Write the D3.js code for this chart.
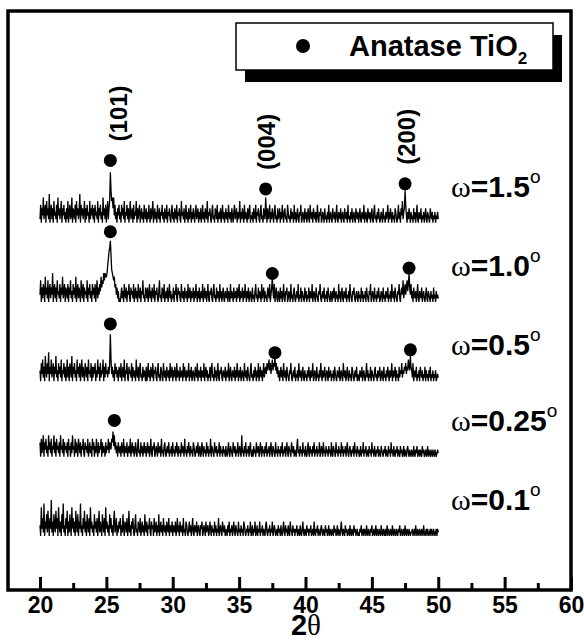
<!DOCTYPE html>
<html>
<head>
<meta charset="utf-8">
<script src="https://cdn.jsdelivr.net/npm/d3@7"></script>
<style>
  body { margin: 0; background: #fff; }
  text { font-family: "Liberation Sans", Arial, sans-serif; }
</style>
</head>
<body>
<div id="chart"></div>
<script>
// 2theta grid of the scans, 20..50 deg in 0.05 deg steps (one row = 2 deg)
var angleStart = 20,
    angleStep = 0.05;

var omegaLabels = ["1.5", "1.0", "0.5", "0.25", "0.1"];
// vertical shift of each scan (intensity units)
var offsets = [102, 80, 58, 37, 15];

var w15 = [
  1,5,0,4,2,7,1,3,5,0, 6,2,4,1,8,0,3,5,1,4, 0,6,2,3,1,5,0,7,2,4, 1,3,6,0,4,2,5,1,3,0,
  4,1,6,0,3,5,1,2,7,0, 4,3,1,5,0,6,2,4,1,3, 8,0,5,2,4,1,3,6,0,4, 1,5,2,3,0,6,1,4,2,5,
  1,4,0,5,2,3,1,6,0,4, 2,5,1,3,0,7,2,4,1,5, 0,3,6,1,4,6,14,9,6,7, 4,7,2,5,1,3,0,4,2,5,
  1,3,0,5,2,4,1,6,0,3, 2,5,1,4,0,3,6,1,2,4, 0,5,1,3,2,6,0,4,1,3, 5,0,2,4,1,3,0,5,2,1,
  4,0,3,1,5,2,0,4,1,3, 6,0,2,4,1,3,0,5,2,1, 4,0,3,2,5,1,3,0,4,2, 1,5,0,3,2,4,1,0,3,5,
  1,3,0,4,2,1,5,0,3,2, 4,1,0,6,2,3,1,4,0,2, 5,1,3,0,4,1,2,5,0,3, 1,4,2,0,3,5,1,2,4,0,
  3,1,4,0,2,5,1,3,0,4, 2,1,6,0,3,2,4,1,0,3, 5,1,2,0,4,3,1,5,0,2, 3,1,4,0,2,5,1,3,0,2,
  4,1,3,0,5,2,1,3,0,4, 2,0,3,5,1,2,4,0,3,1, 2,6,0,3,1,4,2,0,5,1, 3,2,0,4,1,3,5,0,2,1,
  3,0,4,2,1,5,0,3,2,4, 1,0,3,5,1,2,0,4,2,1, 7,3,0,4,1,2,5,0,3,1, 4,2,0,3,5,1,2,0,4,1,
  2,4,0,3,1,5,2,0,3,4, 1,2,0,5,3,1,2,0,4,1, 3,2,0,5,1,3,0,2,4,1, 0,3,2,5,0,1,3,2,0,4,
  1,3,0,2,4,1,0,5,2,1, 3,0,4,2,1,3,0,2,5,1, 0,3,2,4,0,1,3,2,0,4, 1,2,0,3,1,5,0,2,3,1,
  0,4,2,1,3,0,2,5,1,0, 3,2,1,4,0,2,3,1,0,4, 2,1,3,0,5,1,2,0,3,1, 4,0,2,3,1,0,4,2,1,3,
  0,2,4,1,0,3,2,1,5,0, 2,3,1,0,4,2,1,3,0,2, 4,1,0,3,5,1,2,0,3,1, 4,2,0,1,3,2,0,4,1,2,
  0,3,1,2,5,0,3,1,4,2, 0,3,1,2,0,4,3,1,0,2, 5,1,3,0,4,2,6,1,3,4, 9,5,2,0,3,1,4,2,0,3,
  1,2,0,4,1,3,0,2,5,1, 0,3,2,1,4,0,2,1,3,0, 2,4,1,0,3,2,1,0,4,2, 1,3,0,2,1,3,0,2,1,3,
  1
];
var w10 = [
  2,6,0,4,1,5,3,0,7,2, 4,1,6,0,3,5,1,4,2,8, 0,3,5,1,4,0,6,2,3,1, 5,0,4,2,7,1,3,5,0,4,
  3,1,5,0,4,2,6,1,3,0, 5,2,4,1,7,0,3,5,1,4, 2,0,6,3,1,5,0,4,2,3, 1,6,0,4,2,5,1,3,0,5,
  2,4,1,5,0,3,6,1,4,2, 5,3,7,4,6,5,8,6,8,7, 7,8,10,12,14,15,17,13,9,8, 7,6,7,4,5,2,4,1,3,0,
  1,0,2,4,1,3,0,5,2,1, 4,0,3,2,5,1,0,4,2,3, 1,5,0,2,4,1,3,0,5,2, 1,4,0,3,2,6,1,2,0,4,
  3,1,4,0,2,5,1,3,0,4, 2,1,5,0,3,2,4,1,0,3, 6,1,2,0,4,3,1,5,0,2, 3,1,4,0,2,5,1,3,0,2,
  1,4,0,3,2,5,1,0,4,2, 3,1,0,5,2,1,3,0,4,2, 1,3,0,5,1,2,4,0,3,1, 2,4,0,3,1,5,2,0,3,1,
  4,0,2,3,1,5,0,2,4,1, 3,0,2,5,1,0,3,2,4,1, 0,3,5,1,2,0,4,1,3,2, 0,5,1,3,0,2,4,1,0,3,
  2,1,4,0,3,2,0,5,1,3, 2,0,4,1,2,3,0,4,1,2, 5,0,3,1,2,4,0,3,1,5, 2,0,3,1,4,0,2,3,1,0,
  4,1,2,0,3,5,1,2,0,4, 1,3,2,0,5,1,2,4,0,3, 1,2,0,4,3,1,5,0,2,4, 7,3,1,5,0,2,4,1,0,3,
  2,0,4,1,3,0,2,5,1,0, 3,2,4,0,1,3,2,0,5,1, 2,0,3,4,1,0,2,3,1,5, 0,2,1,4,0,3,2,1,0,4,
  1,3,0,2,1,4,0,3,2,1, 5,0,2,3,1,0,4,2,1,0, 3,2,5,1,0,2,3,1,4,0, 2,1,3,0,4,2,1,0,3,2,
  0,3,1,4,2,0,3,1,2,0, 5,1,3,0,2,4,1,0,3,2, 1,4,0,2,1,3,0,5,2,1, 0,3,2,4,1,0,2,3,1,0,
  3,1,2,0,4,1,3,0,2,1, 3,0,4,2,1,0,3,2,5,0, 1,3,2,0,4,1,2,0,3,1, 4,2,0,1,3,2,0,4,1,2,
  0,3,2,1,4,0,2,1,3,0, 5,2,1,3,0,4,2,1,0,3, 2,5,1,0,3,4,2,6,1,3, 5,2,4,6,3,5,8,4,2,5,
  1,3,0,4,2,1,3,0,2,5, 1,0,3,2,1,4,0,2,3,1, 0,2,4,1,0,3,2,1,0,3, 1,2,0,4,1,2,0,3,1,2,
  1
];
var w05 = [
  3,0,5,2,6,1,4,0,7,3, 1,5,2,8,0,4,2,6,1,3, 5,0,4,2,7,1,3,0,5,2, 4,1,6,0,3,2,5,1,4,0,
  2,6,1,4,0,5,3,1,7,0, 4,2,5,1,3,0,6,2,4,1, 5,0,3,6,1,4,2,0,5,3, 1,4,0,6,2,3,1,5,0,4,
  1,4,2,5,0,3,1,6,2,4, 0,5,1,3,2,6,0,4,1,5, 2,3,1,4,2,5,13,6,2,4, 1,3,0,5,2,4,1,3,0,4,
  3,1,5,0,2,4,1,6,0,3, 2,5,1,0,4,2,3,1,5,0, 4,2,1,3,0,6,2,1,4,0, 3,5,1,2,0,4,1,3,2,0,
  4,0,2,5,1,3,0,4,2,1, 5,0,3,2,4,1,0,3,5,1, 2,0,4,3,1,0,5,2,1,3, 0,4,2,1,3,0,5,1,2,4,
  0,3,1,4,2,0,5,1,3,2, 0,4,1,2,3,0,5,1,4,2, 0,3,1,2,5,0,3,1,4,0, 2,3,1,0,4,2,1,5,0,3,
  2,1,4,0,3,2,1,5,0,2, 4,1,3,0,2,1,4,0,3,5, 1,2,0,4,1,3,0,2,5,1, 0,3,2,4,1,0,3,2,1,4,
  0,2,3,1,5,0,2,4,1,0, 3,2,1,4,0,3,1,5,2,0, 3,1,4,0,2,3,1,0,5,2, 1,3,0,4,2,1,0,3,5,1,
  2,0,3,1,4,2,0,3,1,5, 0,2,4,1,3,0,2,5,1,3, 4,2,5,3,4,6,3,5,2,4, 6,3,5,4,7,3,5,2,4,1,
  3,0,2,4,1,3,0,5,2,1, 3,0,4,2,1,0,3,2,5,1, 0,2,3,1,4,0,2,1,3,0, 5,2,1,3,0,2,4,1,0,3,
  1,2,0,3,1,4,2,0,3,1, 2,5,0,1,3,2,0,4,1,2, 0,3,1,5,2,0,3,1,2,4, 0,1,3,2,0,4,1,2,3,0,
  2,1,3,0,4,2,1,0,3,2, 1,4,0,2,3,1,0,5,2,1, 3,0,2,4,1,0,3,1,2,0, 4,3,1,0,2,3,1,4,0,2,
  1,0,3,2,1,4,0,2,3,1, 0,2,5,1,3,0,2,1,4,0, 3,2,1,0,3,4,1,2,0,3, 1,2,4,0,1,3,2,0,4,1,
  2,0,3,1,4,2,0,3,1,2, 5,0,3,1,2,4,0,3,1,2, 0,4,1,3,2,5,1,3,2,4, 3,5,2,4,3,6,4,3,7,4,
  3,1,5,0,2,3,1,4,0,2, 1,3,0,4,2,1,3,0,2,1, 4,0,3,1,2,0,3,1,4,0, 2,1,3,0,2,1,3,0,1,2,
  1
];
var w025 = [
  4,0,5,1,3,6,0,4,2,5, 1,3,0,6,2,4,1,5,0,3, 2,6,1,4,0,5,2,3,1,4, 0,6,2,3,1,5,0,4,2,3,
  1,4,0,5,2,3,0,4,1,6, 2,3,0,5,1,4,2,0,5,3, 1,4,0,3,2,5,1,0,4,2, 3,1,5,0,2,4,1,3,0,5,
  2,4,0,3,1,5,2,0,4,1, 3,2,5,0,4,1,3,2,0,4, 1,3,2,5,1,4,3,2,5,4, 7,3,6,2,4,1,3,0,4,2,
  1,3,0,4,2,1,5,0,3,2, 1,4,0,2,3,1,5,0,2,4, 1,3,0,2,4,1,0,3,5,1, 2,0,4,1,3,0,2,4,1,3,
  0,2,4,1,3,0,2,5,1,0, 3,2,4,0,1,3,2,0,4,1, 2,3,0,5,1,2,0,3,4,1, 0,2,3,1,4,0,2,1,3,0,
  4,1,2,0,3,1,4,2,0,3, 1,2,0,4,1,3,2,0,5,1, 2,0,3,1,4,2,0,3,1,2, 0,4,3,1,0,2,3,1,4,0,
  2,3,0,1,4,2,0,3,1,2, 0,4,1,3,0,2,1,5,0,3, 2,1,0,4,2,1,3,0,2,1, 4,0,3,1,2,0,3,1,2,0,
  3,1,0,2,4,1,0,3,2,1, 0,4,2,1,3,0,2,1,4,0, 2,3,1,0,6,1,2,0,3,1, 4,0,2,1,3,0,2,4,1,0,
  2,0,3,1,2,0,4,1,2,3, 0,1,4,2,0,3,1,2,0,3, 1,4,0,2,1,3,0,2,4,1, 0,3,2,1,0,4,1,2,0,3,
  1,2,0,3,1,4,0,2,1,3, 0,2,4,1,0,3,2,1,0,4, 2,1,3,0,2,1,0,3,5,1, 2,0,3,1,2,0,4,1,2,0,
  3,1,0,2,4,1,0,3,1,2, 0,3,1,4,0,2,1,3,0,2, 1,4,0,1,3,2,0,4,1,2, 0,3,1,2,0,3,1,2,0,4,
  1,0,3,2,1,0,4,1,2,0, 3,1,2,0,4,1,3,0,2,1, 3,0,2,4,1,0,2,3,1,0, 2,1,3,0,4,1,2,0,3,1,
  2,0,1,3,0,2,1,4,0,2, 1,3,0,1,2,0,3,1,2,0, 4,1,2,0,3,1,0,2,1,3, 0,2,1,0,3,2,1,0,2,1,
  3,0,2,1,0,3,1,2,0,4, 1,2,0,3,1,0,2,1,3,0, 2,1,0,3,1,2,0,1,3,0, 2,1,0,2,3,1,0,2,1,0,
  2,1,0,3,1,0,2,1,3,0, 1,2,0,2,1,0,3,1,2,0, 1,2,0,1,3,0,2,1,0,2, 1,0,2,1,0,2,1,0,1,2,
  1
];
var w01 = [
  3,0,8,2,5,1,9,0,4,2, 6,1,7,3,0,5,2,10,1,4, 0,6,3,1,7,2,5,0,8,3, 1,4,0,6,2,9,1,3,0,5,
  2,7,0,4,1,6,3,0,8,2, 5,1,4,0,7,3,1,6,0,4, 2,9,1,3,0,5,2,7,1,4, 0,6,3,1,5,0,8,2,4,1,
  3,0,6,2,4,1,5,0,3,7, 1,4,2,0,6,3,1,5,0,8, 2,4,1,3,0,6,2,5,1,3, 0,4,7,1,2,5,0,3,1,4,
  2,5,0,3,1,6,2,0,4,3, 1,5,0,2,7,1,3,0,4,2, 5,1,0,3,6,1,2,0,4,3, 1,5,0,2,4,1,3,0,6,2,
  1,4,0,3,2,5,1,0,4,2, 3,0,5,1,2,4,0,3,1,6, 0,2,4,1,3,0,5,2,1,3, 0,4,2,1,5,0,3,2,1,4,
  0,3,2,1,4,0,2,5,1,3, 0,4,2,1,3,0,5,1,2,0, 4,3,1,0,2,4,1,3,0,2, 5,1,0,3,2,1,4,0,2,3,
  1,0,3,2,4,0,1,3,2,0, 4,1,2,3,0,1,4,2,0,3, 1,2,0,4,1,3,0,2,1,5, 0,2,3,1,0,4,2,1,3,0,
  2,1,0,3,1,4,0,2,1,3, 0,2,4,1,0,3,2,1,0,4, 1,2,0,3,1,2,0,4,3,1, 0,2,1,3,0,2,1,4,0,1,
  3,0,2,1,4,0,1,3,0,2, 1,4,0,2,1,3,0,2,1,0, 3,4,1,0,2,1,3,0,2,1, 4,0,1,3,2,0,1,2,0,3,
  1,2,0,3,1,0,2,4,1,0, 3,1,2,0,3,1,0,4,2,1, 0,3,1,2,0,2,1,3,0,1, 2,0,3,1,0,2,4,1,0,2,
  1,0,3,1,2,0,2,1,3,0, 1,2,0,4,1,0,2,1,3,0, 2,1,0,2,3,1,0,2,1,0, 3,1,2,0,1,3,0,2,1,0,
  2,1,0,3,1,2,0,1,3,0, 2,1,0,2,4,1,0,2,1,0, 3,1,2,0,1,2,0,3,1,0, 2,1,0,3,1,2,0,1,2,0,
  1,0,2,1,3,0,1,2,0,2, 1,0,3,1,0,2,1,0,2,1, 3,0,1,2,0,1,3,0,2,1, 0,2,1,0,3,1,0,2,1,0,
  2,0,1,3,0,2,1,0,2,1, 0,3,1,0,2,1,0,2,1,0, 2,1,3,0,1,2,0,1,2,0, 3,1,0,2,1,0,2,1,0,1,
  1,2,0,1,2,0,3,1,0,2, 1,0,2,1,0,2,1,0,3,1, 0,1,2,0,2,1,0,1,2,0, 2,1,0,2,1,0,1,2,0,2,
  1
];
var traces = [w15, w10, w05, w025, w01];

// anatase markers: scan index, 2theta, height above the scan baseline
var dotTrace = [0, 0, 0, 1, 1, 1, 2, 2, 2, 3];
var dotAngle = [25.3, 37.0, 47.5, 25.3, 37.5, 47.8, 25.3, 37.7, 47.9, 25.6];
var dotHeight = [17.3, 9.4, 10.8, 19.5, 7.9, 9.4, 15.9, 7.9, 8.7, 10.1];

// hkl labels sit above the markers of the top scan
var hklNames = ["(101)", "(004)", "(200)"];
var hklShift = [17, 9, 10];

var majorTicks = [20, 25, 30, 35, 40, 45, 50, 55, 60],
    minorTicks = [22.5, 27.5, 32.5, 37.5, 42.5, 47.5, 52.5, 57.5];

var width = 584,
    height = 642,
    frameLeft = 8, frameRight = 571, frameTop = 11, frameBottom = 590;

var x = d3.scaleLinear()
    .domain([17.59, 60])
    .range([frameLeft, frameRight]);

var y = d3.scaleLinear()
    .domain([0, 160.8])
    .range([frameBottom, frameTop]);

var svg = d3.select("#chart").append("svg")
    .attr("width", width)
    .attr("height", height);

// scans
var line = d3.line()
    .x(function (d, i) { return x(angleStart + i * angleStep); });

traces.forEach(function (t, k) {
    svg.append("path")
        .datum(t)
        .attr("fill", "none")
        .attr("stroke", "#000")
        .attr("stroke-width", 1.3)
        .attr("d", line.y(function (d) { return y(d + offsets[k]); }));
});

// markers
svg.selectAll(".dot")
    .data(dotAngle)
    .enter().append("circle")
    .attr("class", "dot")
    .attr("cx", function (d) { return x(d); })
    .attr("cy", function (d, i) { return y(dotHeight[i] + offsets[dotTrace[i]]); })
    .attr("r", 6.5)
    .attr("fill", "#000");

svg.selectAll(".hkl")
    .data(hklNames)
    .enter().append("text")
    .attr("class", "hkl")
    .attr("transform", function (d, i) {
        var px = x(dotAngle[i]) + hklShift[i],
            py = y(dotHeight[i] + offsets[0]) - 19;
        return "translate(" + px + "," + py + ") rotate(-90)";
    })
    .style("font-size", "24px")
    .style("font-weight", "bold")
    .text(function (d) { return d; });

// omega labels
var omega = svg.selectAll(".omega")
    .data(omegaLabels)
    .enter().append("text")
    .attr("class", "omega")
    .attr("x", 451)
    .attr("y", function (d, i) { return y(offsets[i]) - 26; })
    .style("font-size", "30px")
    .style("font-weight", "bold");

omega.append("tspan")
    .style("font-family", "'Liberation Serif', serif")
    .style("font-weight", "normal")
    .text("\u03c9");
omega.append("tspan").text(function (d) { return "=" + d; });
omega.append("tspan")
    .attr("dy", -14)
    .style("font-size", "19px")
    .style("font-weight", "normal")
    .text("o");

// axis
var axis = svg.append("g")
    .attr("transform", "translate(0," + frameBottom + ")")
    .call(d3.axisBottom(x).tickValues(majorTicks).tickSize(-13).tickPadding(7));

axis.select(".domain").remove();
axis.selectAll("line").attr("stroke-width", 3);
axis.selectAll("text")
    .attr("fill", "#000")
    .style("font-size", "23px")
    .style("font-weight", "bold")
    .style("font-family", "'Liberation Sans', Arial, sans-serif");

var minor = svg.append("g")
    .attr("transform", "translate(0," + frameBottom + ")")
    .call(d3.axisBottom(x).tickValues(minorTicks).tickSize(-7).tickFormat(""));
minor.select(".domain").remove();
minor.selectAll("line").attr("stroke-width", 3);

svg.append("rect")
    .attr("x", frameLeft)
    .attr("y", frameTop)
    .attr("width", frameRight - frameLeft)
    .attr("height", frameBottom - frameTop)
    .attr("fill", "none")
    .attr("stroke", "#000")
    .attr("stroke-width", 3.5);

var title = svg.append("text")
    .attr("x", 306)
    .attr("y", 635)
    .attr("text-anchor", "middle")
    .style("font-size", "29px")
    .style("font-weight", "bold");
title.append("tspan").text("2");
title.append("tspan")
    .style("font-family", "'Liberation Serif', serif")
    .style("font-weight", "normal")
    .text("\u03b8");

// legend
var legend = svg.append("g");
legend.append("rect")
    .attr("x", 245).attr("y", 35)
    .attr("width", 317).attr("height", 47)
    .attr("fill", "#000");
legend.append("rect")
    .attr("x", 236).attr("y", 23)
    .attr("width", 317).attr("height", 47)
    .attr("fill", "#fff")
    .attr("stroke", "#000")
    .attr("stroke-width", 1.5);
legend.append("circle")
    .attr("cx", 303).attr("cy", 46)
    .attr("r", 7)
    .attr("fill", "#000");
var lt = legend.append("text")
    .attr("x", 349).attr("y", 56)
    .style("font-size", "29px")
    .style("font-weight", "bold");
lt.append("tspan").text("Anatase TiO");
lt.append("tspan")
    .attr("dy", 8)
    .style("font-size", "17px")
    .text("2");
</script>
</body>
</html>
